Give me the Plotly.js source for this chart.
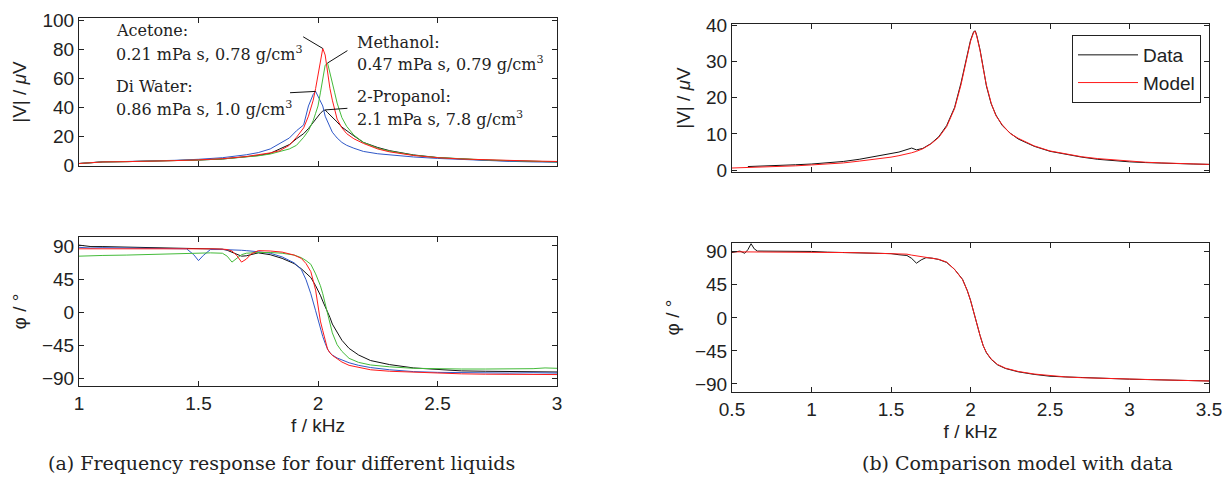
<!DOCTYPE html>
<html><head><meta charset="utf-8">
<script src="https://cdn.plot.ly/plotly-3.0.1.min.js"></script>
<style>html,body{margin:0;padding:0;background:#fff}#chart{width:1231px;height:484px}</style>
</head><body><div id="chart"></div>
<script>
// ---------- (a) magnitude, four liquids ----------
const fMag = [1.0,1.1,1.2,1.3,1.4,1.5,1.6,1.7,1.75,1.8,1.84,1.88,1.91,1.94,1.96,1.98,1.99,2.0,2.01,2.02,2.03,2.04,2.05,2.06,2.07,2.08,2.1,2.12,2.15,2.19,2.25,2.3,2.4,2.5,2.6,2.7,2.8,2.9,3.0];
const acetoneMag  = [1.5,2.6,2.8,3.0,3.5,4.0,4.8,6.3,7.5,8.8,10.3,14,19.5,26,34,45,53,62,73,80.5,76,64,53,45,38,32,26,22,18.5,15.3,11.5,9.5,7,5.5,4.6,4,3.6,3.2,2.9];
const methanolMag = [1.5,2.6,2.8,3.0,3.4,3.9,4.6,6.0,6.8,8,9.5,11.5,14,19.5,24,31,36,41,50,59,69,70.5,63,56,50,43,33,27,21,16,12,10,7.2,5.6,4.6,4,3.5,3.1,2.6];
const waterMag    = [1.5,2.7,2.9,3.1,3.7,4.4,5.5,7.5,9,11.5,15,19,24,28,41,49,51,48,45,41,34,30,26,23,21,19,16,14,12,9.8,8.2,7.3,6,5,4.2,3.5,3.0,2.6,2.4];
const propanolMag = [1.5,2.6,2.8,3.0,3.4,3.9,4.6,6,7,8.5,11.5,14.5,18.5,22,25.5,30,32,34,36,37.5,38.3,36.5,35,33.5,32,30,26.5,24,20.5,16,12.5,10.3,7.4,5.6,4.5,3.8,3.3,3.0,2.7];

// ---------- (a) phase, four liquids ----------
const fPh = [1.0,1.05,1.1,1.2,1.3,1.4,1.45,1.48,1.5,1.52,1.55,1.6,1.62,1.64,1.66,1.68,1.7,1.72,1.75,1.8,1.85,1.9,1.93,1.95,1.97,1.99,2.0,2.01,2.02,2.03,2.04,2.05,2.06,2.08,2.1,2.13,2.17,2.22,2.3,2.4,2.5,2.6,2.7,2.8,2.9,2.95,3.0];
const waterPh    = [88,87,87.5,87,87,86.5,86,78,70,77,85,85,85,84.5,84,84,83.5,83,82,80,75,67,58,44,25,2,-10,-22,-33,-42,-50,-55,-58,-62,-65,-68.5,-72,-75,-78,-80.5,-81.5,-82,-82,-82.5,-82,-82.5,-82.5];
const acetonePh  = [86,86,86.5,87,87,86.5,86.5,86,86,86,86,85.5,85,83,77,68,72,79,83.5,83,81.5,77.5,73,66,55,30,8,-12,-25,-38,-50,-55,-58.5,-63,-67.5,-72,-75,-78,-80,-81.5,-83,-83.5,-84,-84,-84.5,-84,-84.5];
const methanolPh = [76,76,77,77.5,78.5,79,79.5,80,80,80,80.5,80,76,68,73,78,80,80.5,81,81,80,77.5,74,70,65,52,44,36,25,11,-4,-16,-28,-44,-53,-62.5,-68,-71.5,-74,-76,-77,-77,-77,-77,-76.5,-75.5,-76];
const propanolPh = [91,89,89,88.5,88,87.5,87,87,87,86.5,86.5,85.5,84,81,78,76,76.5,78.5,80.5,78,73,66,59,53,47,36,30,23,15,8,0,-7,-16,-28,-38,-49,-58,-65.5,-71,-75.5,-78,-79.5,-80,-80.5,-80.5,-81,-81];

// ---------- (b) model vs data ----------
const fB = [0.5,0.6,0.7,0.8,0.9,1.0,1.1,1.2,1.3,1.4,1.5,1.55,1.6,1.63,1.66,1.7,1.75,1.8,1.85,1.9,1.94,1.97,2.0,2.02,2.03,2.04,2.06,2.08,2.1,2.13,2.16,2.2,2.25,2.3,2.4,2.5,2.6,2.7,2.8,2.9,3.0,3.1,3.2,3.3,3.4,3.5];
const modelMag = [0.6,0.7,0.85,1.0,1.2,1.45,1.7,2.0,2.5,3.0,3.6,4.0,4.4,4.8,5.2,5.9,7.2,9.0,12,17,23.5,30,35.5,38,38.3,36.8,33,28,23.5,18.5,15,12.5,10.1,8.8,6.7,5.3,4.4,3.7,3.2,2.8,2.4,2.2,2.0,1.85,1.7,1.6];
const dataMag  = [null,1.0,1.1,1.2,1.5,1.7,2.0,2.4,3.0,3.7,4.6,5.0,5.6,6.1,5.6,6.0,7.3,9.2,12.3,17.3,24,30.3,35.8,38.2,38.4,37,33.2,28.3,23.2,18.3,15.2,12.3,10.2,8.6,6.6,5.2,4.3,3.6,3.0,2.6,2.3,2.1,1.9,1.8,1.7,1.6];

const fP = [0.5,0.55,0.58,0.6,0.62,0.64,0.66,0.7,0.8,0.9,1.0,1.1,1.2,1.3,1.4,1.5,1.55,1.6,1.63,1.66,1.69,1.72,1.76,1.8,1.85,1.9,1.95,1.98,2.0,2.02,2.04,2.06,2.08,2.1,2.13,2.17,2.22,2.3,2.4,2.5,2.6,2.7,2.8,2.9,3.0,3.1,3.2,3.3,3.4,3.5];
const modelPh = [90,90,90,90,90,90,90,90,89.8,89.6,89.5,89.2,89,88.7,88.3,87.7,87.3,86.8,85.5,84.5,83.5,82.5,81.5,79.8,76,66,52,37,24,7,-9,-24,-38,-47,-56,-63.5,-68.5,-73,-76.5,-79,-80.5,-81.5,-82.3,-83,-83.5,-84,-84.5,-85,-85.5,-86];
const dataPh  = [89,91,88,93,101,94,91,91,90.5,90,90.5,89.5,89,89.5,88,87.5,86,85,81,74.5,79,82,81.3,79.5,75.5,66,52.5,37,24,7,-9,-24,-38,-47.5,-56.5,-64,-69,-73.5,-77,-79.5,-80.5,-81.5,-82,-82.5,-83.5,-84,-84.5,-85,-85.5,-86];

// ---------- tick labels ----------
const magTicksA = [0,20,40,60,80,100];
const magTicksB = [0,10,20,30,40];
const phTicks = [-90,-45,0,45,90];
const phTickText = ['\u221290','\u221245','0','45','90'];
const fTicksA = [1,1.5,2,2.5,3];
const fTickTextA = ['1','1.5','2','2.5','3'];
const fTicksB = [0.5,1,1.5,2,2.5,3,3.5];
const fTickTextB = ['0.5','1','1.5','2','2.5','3','3.5'];

// ---------- labels ----------
const liquidNames = ['Acetone:','Methanol:','Di Water:','2-Propanol:'];
const liquidProps = ['0.21 mPa s, 0.78 g/cm<sup>3</sup>','0.47 mPa s, 0.79 g/cm<sup>3</sup>','0.86 mPa s, 1.0 g/cm<sup>3</sup>','2.1 mPa s, 7.8 g/cm<sup>3</sup>'];
const captions = ['(a) Frequency response for four different liquids','(b) Comparison model with data'];

const RED='#ff1a1a', GREEN='#44bb3a', BLUE='#2f58c8', BLACK='#111111';
const W=1231, H=484;
const px = v => v / W, py = v => 1 - v / H;
const sans = 'Liberation Sans, Arial, sans-serif';
const tickFont = {family:sans, size:19, color:'#222'};
const titleFont = {family:sans, size:19, color:'#222'};
const serif = {family:'DejaVu Serif, serif', size:16, color:'#222'};
const capFont = {family:'DejaVu Serif, serif', size:19, color:'#222'};

function ln(x, y, color, xa, ya, name, show) {
  return {x:x, y:y, type:'scatter', mode:'lines', line:{color:color, width:1}, xaxis:xa, yaxis:ya, name:name||'', showlegend:!!show, hoverinfo:'skip'};
}
const traces = [
  ln(fMag, propanolMag, BLACK, 'x', 'y'),
  ln(fMag, waterMag, BLUE, 'x', 'y'),
  ln(fMag, methanolMag, GREEN, 'x', 'y'),
  ln(fMag, acetoneMag, RED, 'x', 'y'),
  ln(fPh, propanolPh, BLACK, 'x2', 'y2'),
  ln(fPh, waterPh, BLUE, 'x2', 'y2'),
  ln(fPh, methanolPh, GREEN, 'x2', 'y2'),
  ln(fPh, acetonePh, RED, 'x2', 'y2'),
  ln(fB, dataMag, BLACK, 'x3', 'y3', 'Data', true),
  ln(fB, modelMag, RED, 'x3', 'y3', 'Model', true),
  ln(fP, dataPh, BLACK, 'x4', 'y4'),
  ln(fP, modelPh, RED, 'x4', 'y4')
];

function ax(extra) {
  return Object.assign({showline:true, linecolor:'#222', linewidth:1, mirror:'allticks', ticks:'inside', ticklen:5,
    tickcolor:'#222', tickwidth:1, showgrid:false, zeroline:false, tickfont:tickFont, fixedrange:true, automargin:false,
    tickmode:'array'}, extra);
}
const xA = [px(79), px(557)], xB = [px(732), px(1209)];
const layout = {
  width:W, height:H, margin:{l:0, r:0, t:0, b:0}, paper_bgcolor:'#fff', plot_bgcolor:'#fff',
  showlegend:true,
  legend:{x:px(1201), xanchor:'right', y:py(35), yanchor:'top', bgcolor:'#fff', bordercolor:'#222', borderwidth:1,
    font:{family:sans, size:19, color:'#222'}, itemwidth:60, tracegroupgap:0},
  xaxis: ax({domain:xA, range:[1,3], tickvals:fTicksA, showticklabels:false, anchor:'y'}),
  yaxis: ax({domain:[py(166), py(18)], range:[-0.2,101.4], tickvals:magTicksA, anchor:'x',
    title:{text:'|V| / <i>\u03bc</i>V', font:titleFont, standoff:10}}),
  xaxis2: ax({domain:xA, range:[1,3], tickvals:fTicksA, ticktext:fTickTextA, anchor:'y2',
    title:{text:'f / kHz', font:titleFont, standoff:5}}),
  yaxis2: ax({domain:[py(386), py(237)], range:[-100,102], tickvals:phTicks, ticktext:phTickText, anchor:'x2',
    title:{text:'\u03c6 / \u00b0', font:titleFont, standoff:10}}),
  xaxis3: ax({domain:xB, range:[0.5,3.5], tickvals:fTicksB, showticklabels:false, anchor:'y3'}),
  yaxis3: ax({domain:[py(172), py(24)], range:[-0.5,40.3], tickvals:magTicksB, anchor:'x3',
    title:{text:'|V| / <i>\u03bc</i>V', font:titleFont, standoff:10}}),
  xaxis4: ax({domain:xB, range:[0.5,3.5], tickvals:fTicksB, ticktext:fTickTextB, anchor:'y4',
    title:{text:'f / kHz', font:titleFont, standoff:5}}),
  yaxis4: ax({domain:[py(392), py(243)], range:[-101,102], tickvals:phTicks, ticktext:phTickText, anchor:'x4',
    title:{text:'\u03c6 / \u00b0', font:titleFont, standoff:10}}),
  annotations: [],
  shapes: []
};

// leader lines end at each curve's peak, taken from the data
function peak(f, v) { let i = 0; v.forEach((d, k) => { if (d > v[i]) i = k; }); return [f[i], v[i]]; }
const peaks = [peak(fMag, acetoneMag), peak(fMag, methanolMag), peak(fMag, waterMag), peak(fMag, propanolMag)];
const leaderStart = [[1.938, 88.5], [2.123, 79], [1.883, 50.1], [2.123, 39.4]];
const textPos = [[1.146, 93.1, 77.3], [2.155, 84.9, 70.5], [1.146, 54.7, 39.6], [2.155, 47.2, 32.7]];
for (let k = 0; k < 4; k++) {
  layout.shapes.push({type:'line', xref:'x', yref:'y', x0:leaderStart[k][0], y0:leaderStart[k][1],
    x1:peaks[k][0], y1:peaks[k][1], line:{color:'#111', width:1}});
  layout.annotations.push({xref:'x', yref:'y', x:textPos[k][0], y:textPos[k][1], text:liquidNames[k], showarrow:false,
    xanchor:'left', yanchor:'middle', font:serif});
  layout.annotations.push({xref:'x', yref:'y', x:textPos[k][0], y:textPos[k][2], text:liquidProps[k], showarrow:false,
    xanchor:'left', yanchor:'middle', font:serif});
}
layout.annotations.push({xref:'paper', yref:'paper', x:px(281), y:py(463), text:captions[0], showarrow:false,
  xanchor:'center', yanchor:'middle', font:capFont});
layout.annotations.push({xref:'paper', yref:'paper', x:px(1017), y:py(463), text:captions[1], showarrow:false,
  xanchor:'center', yanchor:'middle', font:capFont});

Plotly.newPlot('chart', traces, layout, {staticPlot:true, displayModeBar:false});
</script></body></html>
